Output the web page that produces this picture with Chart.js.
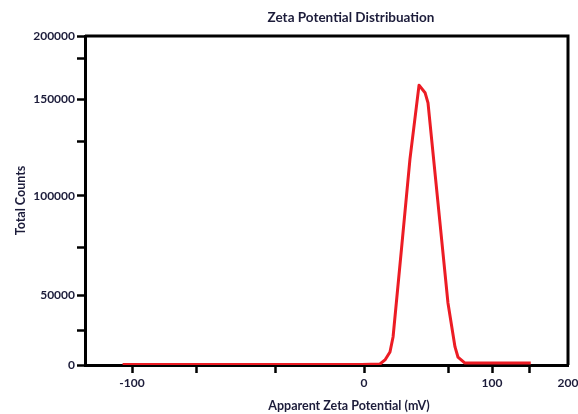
<!DOCTYPE html>
<html>
<head>
<meta charset="utf-8">
<script src="https://cdn.jsdelivr.net/npm/chart.js@4.4.1/dist/chart.umd.min.js"></script>
<style>
  html, body { margin: 0; padding: 0; background: #fff; }
  #wrap { width: 578px; height: 414px; }
</style>
</head>
<body>
<div id="wrap"><canvas id="zeta" width="578" height="414"></canvas></div>
<script>
// Chart text
const chartTitle = 'Zeta Potential Distribuation';
const xTitle = 'Apparent Zeta Potential (mV)';
const yTitle = 'Total Counts';

// Distribution curve: apparent zeta potential (mV) and total counts
const zetaMv = [-104, -1, 12.5, 16.4, 20.3, 22.7, 29.4, 35.9, 43.0, 47.7, 50.0, 57.8, 65.6, 71.1, 73.4, 78.9, 151];
const totalCounts = [300, 300, 700, 3600, 9300, 20000, 74000, 119000, 161000, 155000, 148000, 96500, 44300, 12900, 5700, 1400, 1400];

// Axis ticks (labelled ones carry text, the rest are bare marks)
const xTicks = [-100, -72, -38, 0, 66, 100, 149, 200];
const xTickLabels = ['-100', '', '', '0', '', '100', '', '200'];
const yTicks = [0, 25000, 50000, 74000, 100000, 128000, 150000, 182000, 200000];
const yTickLabels = ['0', '', '50000', '', '100000', '', '150000', '', '200000'];

const TEXT_COLOR = '#1c1c3a';
const LINE_RED = '#ec1c24';

// Linear scale made of pieces, each stretch of values gets its own share of the axis
class SegmentedScale extends Chart.LinearScale {
    static id = 'segmented';

    knots() {
        const segs = this.options.segments;
        const total = segs.reduce((s, g) => s + g[2], 0);
        const knots = [[segs[0][0], 0]];
        let acc = 0;
        segs.forEach(g => {
            acc += g[2];
            knots.push([g[1], acc / total]);
        });
        return knots;
    }

    getPixelForValue(value) {
        if (value === null || value === undefined || isNaN(value)) return NaN;
        const k = this.knots();
        let i = 1;
        while (i < k.length - 1 && value > k[i][0]) i++;
        const [v0, f0] = k[i - 1];
        const [v1, f1] = k[i];
        return this.getPixelForDecimal(f0 + (value - v0) / (v1 - v0) * (f1 - f0));
    }

    getValueForPixel(pixel) {
        const d = this.getDecimalForPixel(pixel);
        const k = this.knots();
        let i = 1;
        while (i < k.length - 1 && d > k[i][1]) i++;
        const [v0, f0] = k[i - 1];
        const [v1, f1] = k[i];
        return v0 + (d - f0) / (f1 - f0) * (v1 - v0);
    }
}
Chart.register(SegmentedScale);

// Top and right edges of the plot frame, plus the two captions
const frame = {
    id: 'frame',
    beforeDatasetsDraw(chart) {
        const { ctx, chartArea: a } = chart;
        ctx.save();
        ctx.strokeStyle = '#000';
        ctx.lineWidth = 3;
        ctx.beginPath();
        ctx.moveTo(a.left, a.top);
        ctx.lineTo(a.right, a.top);
        ctx.lineTo(a.right, a.bottom);
        ctx.stroke();
        ctx.restore();
    },
    afterDraw(chart) {
        const { ctx } = chart;
        ctx.save();
        ctx.fillStyle = TEXT_COLOR;
        ctx.textAlign = 'center';
        ctx.textBaseline = 'middle';
        ctx.font = 'bold 13.5px Lato';
        ctx.fillText(chartTitle, 351, 18);
        ctx.font = 'bold 12.5px Lato';
        ctx.fillText(xTitle, 349, 406);
        ctx.restore();
    }
};

Chart.defaults.font.family = 'Lato';
Chart.defaults.font.size = 12;
Chart.defaults.font.weight = 'bold';
Chart.defaults.color = TEXT_COLOR;

new Chart(document.getElementById('zeta'), {
    type: 'line',
    data: {
        datasets: [{
            data: zetaMv.map((x, i) => ({ x: x, y: totalCounts[i] })),
            borderColor: LINE_RED,
            borderWidth: 3,
            borderJoinStyle: 'round',
            pointRadius: 0,
            tension: 0,
            fill: false
        }]
    },
    options: {
        responsive: false,
        animation: false,
        layout: { padding: { top: 36, right: 10, left: 0, bottom: 0 } },
        plugins: {
            legend: { display: false },
            tooltip: { enabled: false }
        },
        scales: {
            x: {
                type: 'segmented',
                min: -120,
                max: 200,
                segments: [[-120, -100, 47], [-100, 0, 232], [0, 100, 128], [100, 200, 76]],
                afterBuildTicks: s => { s.ticks = xTicks.map(v => ({ value: v })); },
                afterFit: s => { s.height = 49; s.paddingLeft = 0; s.paddingRight = 0; },
                border: { display: true, color: '#000', width: 3 },
                grid: {
                    drawOnChartArea: false,
                    drawTicks: true,
                    tickLength: 8,
                    tickWidth: 2.5,
                    tickColor: c => (c.tick && c.tick.value === 200 ? 'rgba(0,0,0,0)' : '#000')
                },
                ticks: {
                    autoSkip: false,
                    maxRotation: 0,
                    padding: 3,
                    color: TEXT_COLOR,
                    callback: (v, i) => xTickLabels[i]
                }
            },
            y: {
                type: 'segmented',
                min: 0,
                max: 200000,
                segments: [[0, 50000, 70], [50000, 100000, 99], [100000, 150000, 97], [150000, 200000, 63]],
                afterBuildTicks: s => { s.ticks = yTicks.map(v => ({ value: v })); },
                afterFit: s => { s.width = 85; },
                border: { display: true, color: '#000', width: 3 },
                grid: {
                    drawOnChartArea: false,
                    drawTicks: true,
                    tickLength: 8,
                    tickWidth: 2.5,
                    tickColor: '#000'
                },
                ticks: {
                    autoSkip: false,
                    padding: 2,
                    color: TEXT_COLOR,
                    callback: (v, i) => yTickLabels[i]
                },
                title: {
                    display: true,
                    text: yTitle,
                    color: TEXT_COLOR,
                    font: { size: 12.5, weight: 'bold' },
                    padding: { top: 13, bottom: 0 }
                }
            }
        }
    },
    plugins: [frame]
});
</script>
</body>
</html>
